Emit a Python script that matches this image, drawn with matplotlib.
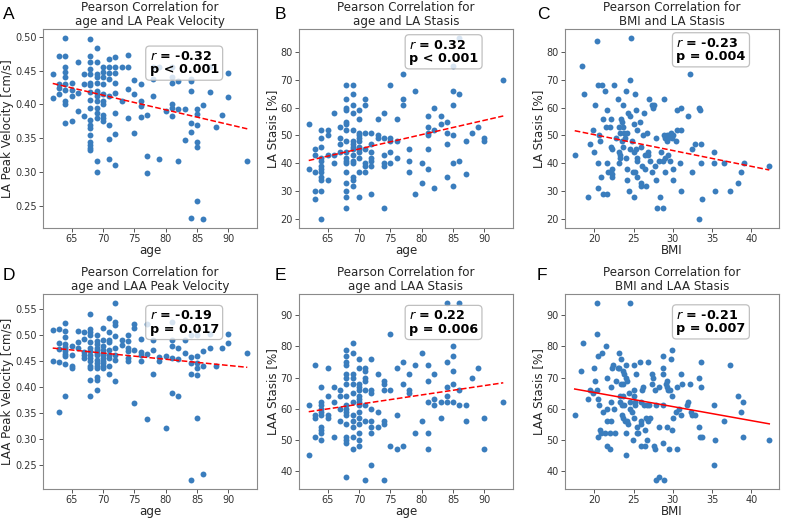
"""
Six Pearson-correlation scatter panels (age / BMI vs. LA & LAA flow metrics).
"""
import matplotlib
matplotlib.use("Agg")
import matplotlib.pyplot as plt
import numpy as np

# ── Data ──────────────────────────────────────────────────────────────────
ages = [62, 63, 64, 65, 66, 67, 68, 69, 70, 71, 72, 73, 74, 75, 76, 77,
        78, 79, 80, 81, 82, 83, 84, 85, 86, 87, 88, 89, 90, 93]

la_velocity = [
    [0.445, 0.410],
    [0.471, 0.430, 0.425, 0.415],
    [0.498, 0.471, 0.455, 0.448, 0.440, 0.430, 0.422, 0.405, 0.400, 0.372],
    [0.432, 0.422, 0.412, 0.376],
    [0.462, 0.417, 0.390],
    [0.445, 0.430, 0.383],
    [0.497, 0.472, 0.462, 0.452, 0.445, 0.432, 0.428, 0.418, 0.406, 0.395,
     0.377, 0.370, 0.365, 0.355, 0.345, 0.340, 0.336, 0.333],
    [0.484, 0.463, 0.445, 0.440, 0.432, 0.420, 0.417, 0.412, 0.405, 0.395,
     0.387, 0.380, 0.316, 0.300],
    [0.456, 0.448, 0.440, 0.430, 0.416, 0.405, 0.400, 0.384, 0.380, 0.375],
    [0.467, 0.455, 0.446, 0.437, 0.412, 0.370, 0.349, 0.320],
    [0.470, 0.456, 0.446, 0.432, 0.417, 0.387, 0.356, 0.310],
    [0.456, 0.405],
    [0.473, 0.456, 0.423, 0.380],
    [0.436, 0.416, 0.358],
    [0.430, 0.405, 0.397, 0.381],
    [0.384, 0.324, 0.299],
    [0.456, 0.437, 0.412],
    [0.455, 0.320],
    [0.390],
    [0.455, 0.440, 0.432, 0.400, 0.395, 0.383],
    [0.434, 0.393, 0.317],
    [0.394, 0.348],
    [0.438, 0.435, 0.420, 0.373, 0.360, 0.232],
    [0.394, 0.386, 0.370, 0.344, 0.337, 0.257],
    [0.399, 0.231],
    [0.455, 0.419],
    [0.366],
    [0.384],
    [0.446, 0.411],
    [0.317],
]

la_stasis_age = [
    [54, 38],
    [45, 43, 37, 30, 27],
    [52, 49, 46, 42, 41, 39, 38, 37, 35, 34, 30, 20],
    [52, 50, 43, 34],
    [58, 43, 40],
    [53, 49, 47, 44],
    [68, 63, 60, 59, 55, 54, 52, 48, 44, 42, 41, 40, 37, 33, 30, 28, 24],
    [68, 65, 61, 58, 52, 48, 47, 46, 45, 43, 41, 40, 35, 34, 32],
    [59, 56, 51, 50, 49, 48, 46, 45, 44, 42, 37, 28],
    [63, 61, 51, 45, 40, 39, 37],
    [51, 47, 44, 42, 41, 39, 29],
    [56, 50, 49],
    [58, 49, 43, 40, 39, 24],
    [68, 49, 48, 44, 40],
    [56, 48, 42],
    [72, 63, 61],
    [45, 41, 37],
    [66, 29],
    [40, 33],
    [57, 53, 51, 50, 45, 38],
    [60, 52, 31],
    [57, 54],
    [55, 51, 47, 35],
    [75, 66, 61, 50, 40, 32],
    [85, 65, 41],
    [48, 36],
    [51],
    [53],
    [49, 48],
    [70],
]

laa_velocity = [
    [0.508, 0.450],
    [0.510, 0.483, 0.473, 0.448, 0.351],
    [0.522, 0.506, 0.495, 0.482, 0.477, 0.472, 0.468, 0.462, 0.459, 0.444, 0.381],
    [0.478, 0.461, 0.440, 0.435],
    [0.506, 0.485, 0.475],
    [0.504, 0.491, 0.466, 0.460, 0.455],
    [0.540, 0.510, 0.505, 0.500, 0.485, 0.475, 0.468, 0.460, 0.455, 0.450,
     0.440, 0.435, 0.413, 0.381],
    [0.500, 0.488, 0.482, 0.475, 0.470, 0.465, 0.460, 0.452, 0.445, 0.440,
     0.435, 0.418, 0.413, 0.393],
    [0.513, 0.490, 0.478, 0.470, 0.465, 0.460, 0.455, 0.450, 0.445, 0.440, 0.435],
    [0.532, 0.505, 0.490, 0.485, 0.470, 0.460, 0.455, 0.440, 0.424],
    [0.561, 0.525, 0.518, 0.497, 0.475, 0.460, 0.452, 0.410],
    [0.490, 0.480],
    [0.500, 0.488, 0.475, 0.468, 0.455, 0.450],
    [0.520, 0.512, 0.470, 0.369],
    [0.492, 0.466, 0.460, 0.450],
    [0.520, 0.463, 0.337],
    [0.489, 0.471, 0.424],
    [0.456, 0.450],
    [0.458, 0.320],
    [0.525, 0.490, 0.478, 0.455, 0.388],
    [0.474, 0.453, 0.382],
    [0.489, 0.465],
    [0.499, 0.456, 0.445, 0.424, 0.220],
    [0.499, 0.458, 0.445, 0.436, 0.423, 0.339],
    [0.468, 0.440, 0.232],
    [0.502, 0.475],
    [0.440],
    [0.474],
    [0.501, 0.484],
    [0.465],
]

laa_stasis_age = [
    [61, 45],
    [74, 58, 57, 51],
    [67, 62, 61, 60, 59, 58, 54, 53, 52, 50],
    [73, 64, 58, 57],
    [67, 62, 51],
    [66, 64, 60, 56],
    [79, 77, 75, 74, 71, 70, 68, 64, 61, 60, 59, 58, 55, 51, 50, 49, 38],
    [81, 78, 71, 70, 68, 65, 62, 58, 56, 54, 51, 47],
    [76, 73, 68, 67, 66, 64, 63, 62, 61, 59, 57, 55, 52, 50, 48],
    [73, 72, 70, 69, 66, 61, 56, 37],
    [76, 66, 65, 60, 56, 54, 52, 42],
    [71, 59, 54],
    [69, 68, 66, 56, 55, 37],
    [84, 66, 48],
    [73, 58, 47],
    [75, 68, 48],
    [71, 66, 65],
    [74, 52],
    [78, 56],
    [74, 69, 62, 52, 47],
    [71, 63, 61],
    [62, 57],
    [94, 75, 67, 64, 62],
    [80, 77, 72, 68, 62],
    [94, 66, 61],
    [61, 56],
    [70],
    [73],
    [57, 47],
    [62],
]

# (BMI, LA stasis %)
la_stasis_bmi = [
    (17.5, 43), (18.4, 75), (18.7, 65), (19.2, 28), (19.4, 47), (19.8, 52),
    (19.9, 44), (20.1, 61), (20.4, 84), (20.5, 68), (20.5, 40), (20.5, 31),
    (20.6, 50), (20.7, 48), (20.8, 35), (21.0, 68), (21.1, 56), (21.1, 29),
    (21.4, 66), (21.5, 53), (21.6, 59), (21.6, 40), (21.7, 37), (21.6, 29),
    (22.0, 53), (22.1, 56), (22.1, 46), (22.2, 45), (22.2, 38), (22.2, 36),
    (22.2, 35), (22.5, 68), (22.7, 49), (23.0, 63), (23.1, 53), (23.1, 40),
    (23.2, 44), (23.3, 51), (23.3, 43), (23.3, 42), (23.4, 56), (23.5, 55),
    (23.5, 48), (23.6, 53), (23.6, 46), (23.7, 61), (23.8, 51), (23.9, 49),
    (24.0, 66), (24.0, 42), (24.1, 38), (24.1, 34), (24.2, 51), (24.3, 58),
    (24.4, 30), (24.5, 57), (24.6, 70), (24.6, 45), (24.7, 85), (24.8, 48),
    (24.9, 37), (25.0, 44), (25.1, 54), (25.1, 28), (25.2, 65), (25.2, 37),
    (25.3, 59), (25.3, 45), (25.4, 42), (25.4, 35), (25.5, 52), (25.5, 41),
    (25.8, 55), (25.9, 46), (25.9, 33), (26.0, 32), (26.1, 39), (26.2, 50),
    (26.3, 58), (26.4, 38), (26.5, 43), (26.6, 32), (26.7, 51), (26.8, 44),
    (26.9, 43), (27.0, 63), (27.1, 41), (27.3, 37), (27.4, 61), (27.5, 60),
    (27.6, 61), (27.7, 39), (27.8, 49), (27.8, 34), (28.0, 24), (28.2, 41),
    (28.4, 28), (28.5, 44), (28.7, 41), (28.8, 24), (28.9, 63), (28.9, 50),
    (29.0, 49), (29.0, 42), (29.0, 37), (29.2, 48), (29.3, 50), (29.4, 49),
    (29.4, 43), (29.5, 50), (29.7, 41), (29.8, 51), (29.9, 49), (30.0, 34),
    (30.0, 38), (30.0, 50), (30.4, 48), (30.5, 59), (30.6, 52), (30.9, 40),
    (31.0, 60), (31.1, 52), (31.1, 30), (31.9, 57), (32.2, 72), (32.4, 45),
    (32.5, 37), (32.8, 47), (33.3, 20), (33.4, 60), (33.5, 59), (33.6, 47),
    (33.6, 40), (33.7, 27), (35.3, 44), (35.3, 40), (35.4, 30), (36.5, 40),
    (37.3, 30), (38.3, 33), (38.7, 37), (39.1, 40), (42.3, 39),
]

# (BMI, LAA stasis %)
laa_stasis_bmi = [
    (17.5, 58), (18.3, 72), (18.6, 81), (19.2, 63), (19.4, 66), (19.8, 65),
    (19.9, 73), (20.1, 69), (20.4, 94), (20.4, 84), (20.4, 66), (20.5, 77),
    (20.5, 63), (20.5, 51), (20.6, 61), (20.7, 53), (20.9, 52), (21.0, 78),
    (21.1, 59), (21.4, 52), (21.5, 80), (21.6, 70), (21.6, 60), (21.6, 56),
    (21.6, 48), (22.0, 52), (22.0, 47), (22.1, 67), (22.1, 62), (22.1, 56),
    (22.2, 73), (22.4, 74), (22.5, 60), (22.6, 52), (22.7, 69), (23.0, 73),
    (23.1, 78), (23.2, 73), (23.3, 64), (23.3, 62), (23.4, 76), (23.4, 68),
    (23.5, 61), (23.5, 58), (23.6, 72), (23.6, 57), (23.7, 68), (23.7, 64),
    (23.8, 71), (23.8, 61), (23.9, 56), (24.0, 74), (24.0, 70), (24.0, 52),
    (24.0, 45), (24.2, 69), (24.2, 56), (24.3, 55), (24.4, 65), (24.5, 60),
    (24.6, 94), (24.6, 62), (24.8, 59), (24.9, 50), (25.0, 74), (25.0, 64),
    (25.0, 57), (25.1, 66), (25.2, 62), (25.2, 61), (25.3, 71), (25.4, 52),
    (25.5, 54), (25.6, 52), (25.8, 75), (25.9, 62), (25.9, 56), (26.0, 55),
    (26.0, 48), (26.1, 66), (26.2, 67), (26.3, 61), (26.4, 53), (26.5, 48),
    (26.6, 57), (26.7, 61), (26.7, 50), (26.8, 56), (26.9, 75), (27.0, 61),
    (27.1, 57), (27.3, 71), (27.4, 68), (27.5, 70), (27.6, 48), (27.7, 47),
    (27.7, 66), (27.8, 61), (27.9, 37), (28.2, 67), (28.3, 54), (28.3, 38),
    (28.8, 77), (28.8, 71), (28.8, 73), (28.8, 61), (28.8, 49), (28.9, 37),
    (29.1, 68), (29.2, 67), (29.2, 54), (29.3, 69), (29.4, 66), (29.5, 47),
    (29.6, 66), (29.8, 76), (29.9, 79), (29.9, 64), (29.9, 53), (30.0, 57),
    (30.4, 59), (30.5, 47), (30.6, 67), (30.8, 60), (31.0, 58), (31.1, 71),
    (31.2, 68), (31.8, 61), (31.9, 62), (32.2, 68), (32.3, 59), (32.4, 58),
    (32.8, 58), (33.3, 70), (33.4, 54), (33.5, 51), (33.6, 75), (33.6, 67),
    (33.7, 51), (35.2, 61), (35.2, 42), (35.4, 50), (36.5, 56), (37.3, 74),
    (38.3, 64), (38.7, 59), (39.0, 62), (39.0, 51), (42.3, 50),
]

# Regression line end points (x range, fitted y at both ends)
age_span = [62, 93]
bmi_span = [17.5, 42.3]
fit_a = [0.431, 0.364]
fit_b = [41.0, 57.0]
fit_c = [51.7, 37.6]
fit_d = [0.474, 0.437]
fit_e = [59.0, 68.3]
fit_f = [66.3, 55.1]

r_values = ["-0.32", "0.32", "-0.23", "-0.19", "0.22", "-0.21"]
p_labels = ["p < 0.001", "p < 0.001", "p = 0.004", "p = 0.017", "p = 0.006", "p = 0.007"]
panel_letters = ["A", "B", "C", "D", "E", "F"]
titles = [
    "Pearson Correlation for\nage and LA Peak Velocity",
    "Pearson Correlation for\nage and LA Stasis",
    "Pearson Correlation for\nBMI and LA Stasis",
    "Pearson Correlation for\nage and LAA Peak Velocity",
    "Pearson Correlation for\nage and LAA Stasis",
    "Pearson Correlation for\nBMI and LAA Stasis",
]
x_labels = ["age", "age", "BMI", "age", "age", "BMI"]
y_labels = ["LA Peak Velocity [cm/s]", "LA Stasis [%]", "LA Stasis [%]",
            "LAA Peak Velocity [cm/s]", "LAA Stasis [%]", "LAA Stasis [%]"]


def _flatten(groups):
    xs = np.repeat(ages, [len(g) for g in groups])
    ys = np.concatenate([np.asarray(g, dtype=float) for g in groups])
    return xs, ys


def _unzip(pairs):
    arr = np.asarray(pairs, dtype=float)
    return arr[:, 0], arr[:, 1]


panels = [
    (_flatten(la_velocity), age_span, fit_a),
    (_flatten(la_stasis_age), age_span, fit_b),
    (_unzip(la_stasis_bmi), bmi_span, fit_c),
    (_flatten(laa_velocity), age_span, fit_d),
    (_flatten(laa_stasis_age), age_span, fit_e),
    (_unzip(laa_stasis_bmi), bmi_span, fit_f),
]

# ── Layout / style ────────────────────────────────────────────────────────
W, H = 790, 522
col_left = [43, 299, 565]
row_top = [29, 294]
row_h = [199, 195]
letter_x = [3, 275, 537]
letter_y = [7, 268]
ax_w = 214
box_pos = [(0.498, 0.895), (0.514, 0.952), (0.52, 0.962),
           (0.498, 0.922), (0.514, 0.922), (0.52, 0.925)]
line_styles = ["--", "--", "--", "--", "--", "-"]

POINT = "#3a7dbd"
TXT = "#262626"

plt.rcParams["font.family"] = ["DejaVu Sans"]
fig = plt.figure(figsize=(W / 100, H / 100), dpi=100)

for i, ((xs, ys), span, fit) in enumerate(panels):
    row, col = divmod(i, 3)
    left = col_left[col] / W
    bottom = 1 - (row_top[row] + row_h[row]) / H
    ax = fig.add_axes([left, bottom, ax_w / W, row_h[row] / H])

    ax.scatter(xs, ys, s=18, color=POINT, linewidths=0, zorder=2)
    ax.plot(span, fit, color="red", lw=1.1, ls=line_styles[i], zorder=3)

    ax.set_title(titles[i], fontsize=8.6, color=TXT, pad=3, linespacing=1.1)
    ax.set_xlabel(x_labels[i], fontsize=8.6, color=TXT, labelpad=0)
    ax.set_ylabel(y_labels[i], fontsize=8.6, color=TXT, labelpad=1)
    ax.tick_params(labelsize=7, colors="#555555", labelcolor="#333333",
                   length=3, width=0.7, pad=1.5)
    for sp in ax.spines.values():
        sp.set_color("#8a8a8a")
        sp.set_linewidth(0.8)

    bx, by = box_pos[i]
    ax.text(bx, by, r"$\mathit{r}$ = " + r_values[i] + "\n" + p_labels[i],
            transform=ax.transAxes, ha="left", va="top", fontsize=9.2,
            fontweight="bold", color="black", linespacing=1.05, zorder=5,
            bbox=dict(boxstyle="round,pad=0.3", fc="white", ec="#b0b0b0",
                      lw=0.9, alpha=0.8))

    fig.text(letter_x[col] / W, 1 - letter_y[row] / H,
             panel_letters[i], fontsize=12.5, family="Liberation Sans",
             ha="left", va="top", color="black")

fig.savefig("out.png", dpi=100)
